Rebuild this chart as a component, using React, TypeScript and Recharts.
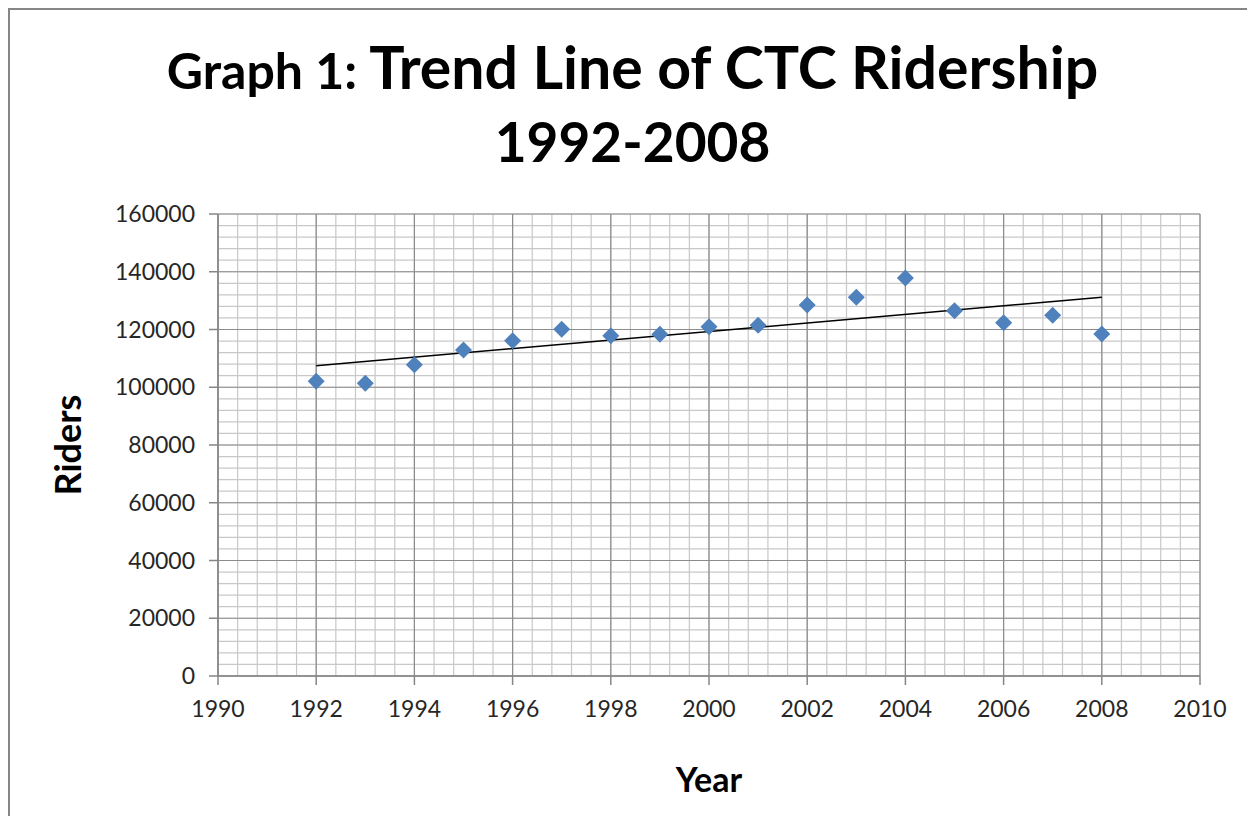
import React from 'react';
import { ScatterChart, Scatter, XAxis, YAxis, CartesianGrid, ReferenceLine } from 'recharts';

// CTC ridership
const years = [1992, 1993, 1994, 1995, 1996, 1997, 1998, 1999, 2000, 2001, 2002, 2003, 2004, 2005, 2006, 2007, 2008];
const riders = [102060, 101370, 107810, 112900, 116120, 120070, 117850, 118340, 120970, 121450, 128490, 131150, 137840, 126510, 122360, 124910, 118440];

// linear trend line end points
const trendYears = [1992, 2008];
const trendRiders = [107460, 131150];

const yearTicks = [1990, 1992, 1994, 1996, 1998, 2000, 2002, 2004, 2006, 2008, 2010];
const riderTicks = [0, 20000, 40000, 60000, 80000, 100000, 120000, 140000, 160000];

// minor gridlines: 5 per major step
const yearMinor = Array.from({ length: 51 }, (_, i) => 1990 + i * 0.4);
const riderMinor = Array.from({ length: 41 }, (_, i) => i * 4000);

const data = years.map((y, i) => ({ year: y, riders: riders[i] }));

const FONT = 'Lato, "Open Sans", sans-serif';
const AXIS = '#868686';

const Diamond = (props: any) => {
    const { cx, cy } = props;
    const r = 8.5;
    return (
        <polygon
            points={`${cx},${cy - r} ${cx + r},${cy} ${cx},${cy + r} ${cx - r},${cy}`}
            fill="#4f81bd"
        />
    );
};

const YearLabel = (props: any) => {
    const vb = props.viewBox;
    return (
        <text x={vb.x + vb.width / 2} y={vb.y + 116} textAnchor="middle"
            fontFamily={FONT} fontWeight="bold" fontSize={34} fill="#000">
            Year
        </text>
    );
};

const RidersLabel = (props: any) => {
    const vb = props.viewBox;
    const x = vb.x - 27;
    const y = vb.y + vb.height / 2;
    return (
        <text x={x} y={y} transform={`rotate(-90 ${x} ${y})`} textAnchor="middle"
            fontFamily={FONT} fontWeight="bold" fontSize={36} fill="#000">
            Riders
        </text>
    );
};

export default function App() {
    const tickStyle = { fontFamily: FONT, fontSize: 23, fill: '#262626' };
    return (
        <div style={{
            position: 'relative', width: 1239, height: 808, boxSizing: 'border-box',
            borderTop: '2px solid #868686', borderLeft: '2px solid #868686', background: '#fff',
        }}>
            <div style={{
                position: 'absolute', top: 29, left: 0, width: 1245, textAlign: 'center',
                fontFamily: FONT, fontWeight: 'bold', lineHeight: '55px', color: '#000',
            }}>
                <span style={{ fontSize: 50 }}>Graph 1: </span>
                <span style={{ fontSize: 59 }}>Trend Line of CTC Ridership</span>
            </div>
            <div style={{
                position: 'absolute', top: 104, left: 0, width: 1245, textAlign: 'center',
                fontFamily: FONT, fontWeight: 'bold', fontSize: 55, lineHeight: '55px', color: '#000',
            }}>
                1992-2008
            </div>
            <ScatterChart width={1237} height={806} margin={{ top: 204, right: 47, bottom: 60, left: 98 }}>
                <XAxis xAxisId="minor" type="number" dataKey="year" domain={[1990, 2010]}
                    ticks={yearMinor} interval={0} allowDataOverflow hide />
                <YAxis yAxisId="minor" type="number" dataKey="riders" domain={[0, 160000]}
                    ticks={riderMinor} interval={0} allowDataOverflow hide />
                <CartesianGrid xAxisId="minor" yAxisId="minor" stroke="#c8c8c8" strokeWidth={1.2} />
                <CartesianGrid stroke="#8c8c8c" strokeWidth={1.2} />
                <XAxis type="number" dataKey="year" domain={[1990, 2010]} ticks={yearTicks} interval={0}
                    allowDataOverflow height={80} tick={tickStyle} tickSize={9} tickMargin={16}
                    axisLine={{ stroke: AXIS, strokeWidth: 1.5 }} tickLine={{ stroke: AXIS, strokeWidth: 1.5 }}
                    label={<YearLabel />} />
                <YAxis type="number" dataKey="riders" domain={[0, 160000]} ticks={riderTicks} interval={0}
                    allowDataOverflow width={110} tick={tickStyle} tickSize={9} tickMargin={14}
                    axisLine={{ stroke: AXIS, strokeWidth: 1.5 }} tickLine={{ stroke: AXIS, strokeWidth: 1.5 }}
                    label={<RidersLabel />} />
                <ReferenceLine
                    segment={[
                        { x: trendYears[0], y: trendRiders[0] },
                        { x: trendYears[1], y: trendRiders[1] },
                    ]}
                    stroke="#000" strokeWidth={1.5} ifOverflow="visible" />
                <Scatter data={data} shape={<Diamond />} isAnimationActive={false} />
            </ScatterChart>
        </div>
    );
}
